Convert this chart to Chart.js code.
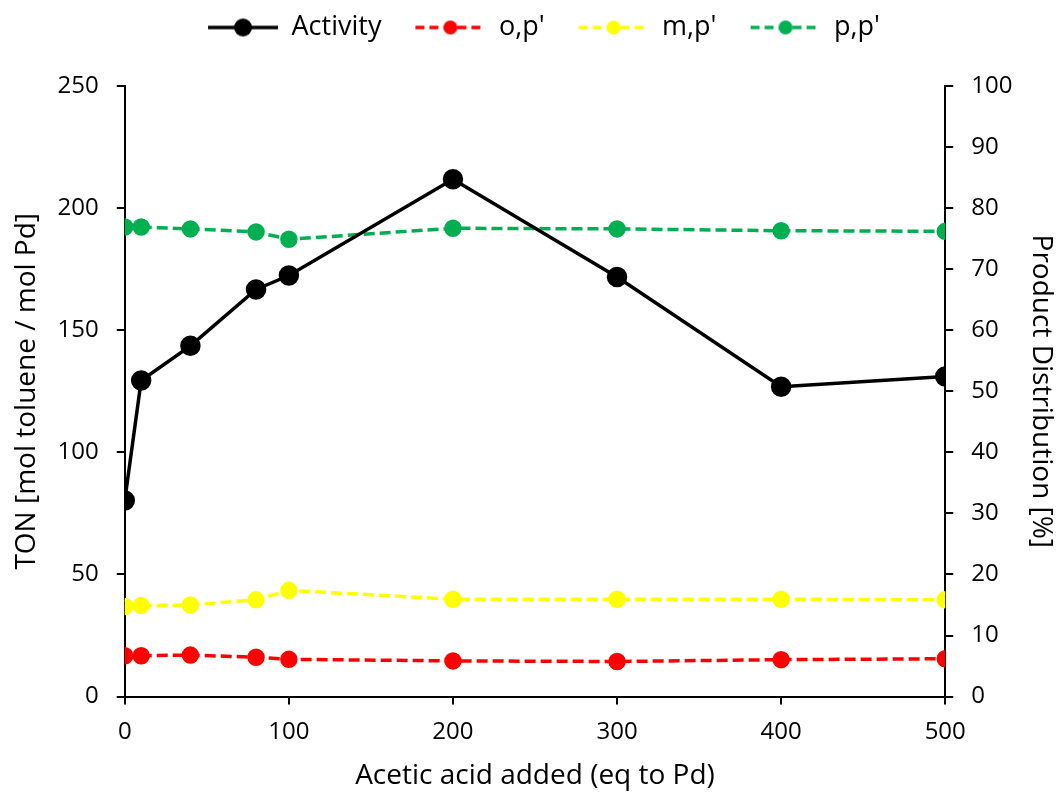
<!DOCTYPE html>
<html>
<head>
<meta charset="utf-8">
<script src="https://cdn.jsdelivr.net/npm/chart.js@4.4.1/dist/chart.umd.min.js"></script>
<style>
  html, body { margin: 0; padding: 0; background: #fff; }
  #wrap { width: 1058px; height: 795px; }
</style>
</head>
<body>
<div id="wrap"><canvas id="myChart" width="1058" height="795"></canvas></div>
<script>
// Acetic acid added (eq to Pd)
var acidEq = [0, 10, 40, 80, 100, 200, 300, 400, 500];
// TON, left axis
var activity = [80.3, 129.4, 143.6, 166.7, 172.4, 211.8, 171.8, 126.9, 131.1];
// product distribution in %, right axis
var opRatio = [6.7, 6.7, 6.8, 6.45, 6.1, 5.85, 5.75, 6.05, 6.2];
var mpRatio = [14.75, 14.9, 15.0, 15.85, 17.4, 15.95, 15.95, 15.95, 15.85];
var ppRatio = [76.9, 76.9, 76.6, 76.1, 74.9, 76.7, 76.6, 76.3, 76.2];

var FONT = '"Open Sans", Lato, sans-serif';
var DASH = [11, 5];

function pairs(ys) {
    return acidEq.map(function (x, i) { return { x: x, y: ys[i] }; });
}

// legend swatch: short line with the marker in the middle,
// left part of the canvas kept blank as spacing between items
function swatch(color, dashed, r, lw) {
    var c = document.createElement('canvas');
    c.width = 90; c.height = 24;
    var g = c.getContext('2d');
    g.strokeStyle = color;
    g.lineWidth = lw;
    if (dashed) g.setLineDash([9, 5]);
    g.beginPath();
    g.moveTo(20, 12); g.lineTo(90, 12);
    g.stroke();
    g.fillStyle = color;
    g.beginPath();
    g.arc(55, 12, r, 0, Math.PI * 2);
    g.fill();
    return c;
}

var data = {
    datasets: [{
        label: 'Activity',
        data: pairs(activity),
        yAxisID: 'y',
        borderColor: '#000',
        backgroundColor: '#000',
        borderWidth: 3.5,
        pointRadius: 8.5,
        pointHoverRadius: 8.5,
        legendSwatch: swatch('#000', false, 9, 3.5),
        order: 0
    }, {
        label: "o,p'",
        data: pairs(opRatio),
        yAxisID: 'y1',
        borderColor: '#ff0000',
        backgroundColor: '#ff0000',
        borderWidth: 3.5,
        borderDash: DASH,
        pointRadius: 7,
        legendSwatch: swatch('#ff0000', true, 7, 3.5),
        order: 1
    }, {
        label: "m,p'",
        data: pairs(mpRatio),
        yAxisID: 'y1',
        borderColor: '#ffff00',
        backgroundColor: '#ffff00',
        borderWidth: 3.5,
        borderDash: DASH,
        pointRadius: 7,
        legendSwatch: swatch('#ffff00', true, 7, 3.5),
        order: 2
    }, {
        label: "p,p'",
        data: pairs(ppRatio),
        yAxisID: 'y1',
        borderColor: '#00b050',
        backgroundColor: '#00b050',
        borderWidth: 3.5,
        borderDash: DASH,
        pointRadius: 7,
        legendSwatch: swatch('#00b050', true, 7, 3.5),
        order: 3
    }]
};

var tickFont = { family: FONT, size: 24 };
var titleFont = { family: FONT, size: 28 };

// extra room below the legend
var legendGap = {
    id: 'legendGap',
    beforeInit: function (chart) {
        var fit = chart.legend.fit;
        chart.legend.fit = function () {
            fit.bind(chart.legend)();
            this.height += 35;
        };
    }
};

var options = {
    responsive: false,
    animation: false,
    layout: { padding: { left: 10, right: 0, top: 0, bottom: 2 } },
    plugins: {
        tooltip: { enabled: false },
        legend: {
            position: 'top',
            labels: {
                usePointStyle: true,
                pointStyleWidth: 90,
                color: '#000',
                font: { family: FONT, size: 27 },
                padding: 14,
                generateLabels: function (chart) {
                    return chart.data.datasets.map(function (ds, i) {
                        return {
                            text: ds.label,
                            pointStyle: ds.legendSwatch,
                            fillStyle: ds.borderColor,
                            strokeStyle: ds.borderColor,
                            lineWidth: 0,
                            hidden: false,
                            datasetIndex: i
                        };
                    });
                }
            }
        }
    },
    scales: {
        x: {
            type: 'linear',
            min: 0, max: 500,
            border: { color: '#000', width: 2 },
            grid: { drawOnChartArea: false, color: '#000', lineWidth: 2, tickLength: 8 },
            ticks: { stepSize: 100, color: '#000', font: tickFont, padding: 13 },
            title: { display: true, text: 'Acetic acid added (eq to Pd)', color: '#000', font: titleFont, padding: { top: 0, bottom: 0 } }
        },
        y: {
            position: 'left',
            min: 0, max: 250,
            border: { color: '#000', width: 2 },
            grid: { drawOnChartArea: false, color: '#000', lineWidth: 2, tickLength: 8 },
            ticks: { stepSize: 50, color: '#000', font: tickFont, padding: 18 },
            title: { display: true, text: 'TON [mol toluene / mol Pd]', color: '#000', font: titleFont, padding: { top: 0, bottom: -4 } }
        },
        y1: {
            position: 'right',
            min: 0, max: 100,
            border: { color: '#000', width: 2 },
            grid: { drawOnChartArea: false, color: '#000', lineWidth: 2, tickLength: 8 },
            ticks: { stepSize: 10, color: '#000', font: tickFont, padding: 18 },
            title: { display: true, text: 'Product Distribution [%]', color: '#000', font: titleFont, padding: { top: 0, bottom: -6 } }
        }
    }
};

var ctx = document.getElementById('myChart').getContext('2d');
var myChart = new Chart(ctx, {
    type: 'line',
    data: data,
    options: options,
    plugins: [legendGap]
});
</script>
</body>
</html>
